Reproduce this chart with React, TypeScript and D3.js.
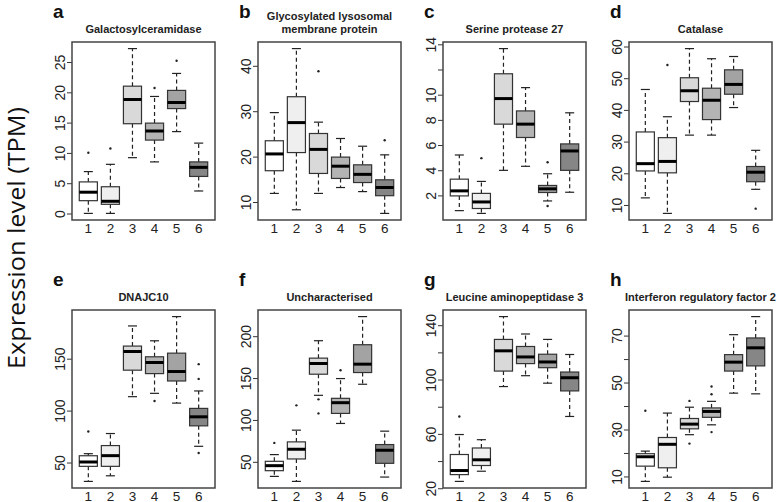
import React from "react";
import * as d3 from "d3";

const groups = [1, 2, 3, 4, 5, 6];
const fills = ["#ffffff", "#efefef", "#d9d9d9", "#b4b4b4", "#a3a3a3", "#868686"];

// per group: [lower whisker, q1, median, q3, upper whisker]
const galactosylceramidase = [
  [0.1, 2.2, 3.6, 5.3, 7.0],
  [0.1, 1.6, 2.1, 4.5, 8.2],
  [9.3, 14.9, 18.9, 21.1, 27.3],
  [8.6, 12.2, 13.7, 15.0, 19.4],
  [13.6, 17.4, 18.4, 20.4, 23.2],
  [3.8, 6.2, 7.7, 8.6, 11.7],
];
const galactosylceramidaseOut = [[10.1], [10.8], [], [20.8], [25.3], []];

const glycosylated = [
  [12.0, 17.0, 20.7, 23.6, 29.8],
  [8.4, 21.0, 27.6, 33.3, 43.9],
  [12.0, 16.4, 21.7, 25.2, 27.7],
  [13.3, 15.3, 18.0, 20.0, 24.1],
  [12.4, 14.4, 16.2, 18.3, 22.4],
  [7.6, 11.5, 13.3, 15.0, 20.5],
];
const glycosylatedOut = [[], [], [38.9], [], [], [23.7]];

const serineProtease = [
  [0.83, 2.0, 2.4, 3.33, 5.25],
  [0.61, 1.0, 1.52, 2.2, 3.15],
  [4.03, 7.7, 9.73, 11.7, 13.7],
  [4.35, 6.64, 7.7, 8.75, 10.6],
  [1.6, 2.27, 2.56, 2.83, 3.76],
  [2.29, 4.03, 5.57, 6.13, 8.6],
];
const serineProteaseOut = [[], [5.0], [], [], [4.67, 1.2], []];

const catalase = [
  [12.4, 20.9, 23.2, 33.2, 46.6],
  [7.5, 20.3, 23.9, 31.4, 38.0],
  [32.2, 42.8, 46.2, 50.3, 59.5],
  [32.2, 37.1, 43.2, 47.0, 56.3],
  [40.9, 45.1, 48.2, 52.8, 57.0],
  [15.1, 17.5, 20.5, 22.3, 27.4],
];
const catalaseOut = [[], [54.3], [], [], [], [9.0]];

const dnajc10 = [
  [32.3, 46.8, 51.0, 57.0, 59.0],
  [37.7, 46.8, 57.1, 66.8, 78.4],
  [113.9, 139.4, 157.4, 162.6, 182.0],
  [117.1, 136.1, 146.8, 152.3, 167.7],
  [107.7, 129.0, 138.1, 155.8, 191.0],
  [66.1, 85.8, 94.5, 102.6, 119.4],
];
const dnajc10Out = [[80.3], [], [], [109.7], [], [145.2, 131.0, 59.7]];

const uncharacterised = [
  [33.2, 40.0, 46.0, 51.2, 59.2],
  [27.2, 54.0, 65.6, 74.4, 88.4],
  [130.0, 155.2, 168.0, 174.4, 195.2],
  [96.4, 108.4, 121.2, 126.4, 150.0],
  [143.2, 157.2, 167.2, 190.4, 224.0],
  [32.4, 48.8, 64.4, 71.2, 87.2],
];
const uncharacterisedOut = [[73.2], [118.0], [125.2, 108.4], [160.0], [], []];

const leucineAminopeptidase = [
  [25.4, 30.4, 33.4, 45.2, 59.9],
  [32.9, 37.1, 41.3, 50.0, 56.1],
  [95.2, 106.6, 121.5, 129.9, 146.7],
  [103.2, 112.1, 117.0, 124.7, 133.9],
  [97.7, 109.1, 113.3, 119.0, 129.9],
  [73.2, 92.0, 101.7, 105.9, 118.8],
];
const leucineAminopeptidaseOut = [[73.2], [], [], [], [], []];

const interferonFactor = [
  [8.1, 14.6, 18.6, 19.9, 21.0],
  [9.9, 13.9, 23.9, 26.8, 37.2],
  [28.0, 30.5, 32.5, 34.9, 39.7],
  [32.2, 35.4, 37.9, 39.4, 42.2],
  [45.7, 55.1, 58.9, 62.1, 70.6],
  [45.4, 57.3, 65.0, 69.2, 78.3],
];
const interferonFactorOut = [[38.2], [], [42.4, 24.2], [45.2, 48.5, 29.1], [], []];

const titles = [
  ["Galactosylceramidase"],
  ["Glycosylated lysosomal", "membrane protein"],
  ["Serine protease 27"],
  ["Catalase"],
  ["DNAJC10"],
  ["Uncharacterised"],
  ["Leucine aminopeptidase 3"],
  ["Interferon regulatory factor 2"],
];
const letters = ["a", "b", "c", "d", "e", "f", "g", "h"];

const tickValues = [
  [0, 5, 10, 15, 20, 25],
  [10, 20, 30, 40],
  [2, 4, 6, 8, 10, 12, 14],
  [10, 20, 30, 40, 50, 60],
  [50, 100, 150],
  [50, 100, 150, 200],
  [20, 40, 60, 80, 100, 120, 140],
  [10, 20, 30, 40, 50, 60, 70],
];
const tickLabels = [
  [0, 5, 10, 15, 20, 25],
  [10, 20, 30, 40],
  [2, 4, 6, 8, 10, 14],
  [10, 20, 30, 40, 50, 60],
  [50, 100, 150],
  [50, 100, 150, 200],
  [20, 60, 100, 140],
  [10, 30, 50, 70],
];

const stats = [galactosylceramidase, glycosylated, serineProtease, catalase, dnajc10, uncharacterised, leucineAminopeptidase, interferonFactor];
const outliers = [galactosylceramidaseOut, glycosylatedOut, serineProteaseOut, catalaseOut, dnajc10Out, uncharacterisedOut, leucineAminopeptidaseOut, interferonFactorOut];

const colLefts = [72, 258, 443, 629];
const rowTops = [42, 310];
const plotW = 143;
const plotH = 178;
const tickFont = "'Liberation Sans', Arial, Helvetica, sans-serif";

function Panel({ i }: { i: number }) {
  const left = colLefts[i % 4];
  const top = rowTops[Math.floor(i / 4)];
  const s = stats[i];
  const out = outliers[i];
  const all = [...s.flat(), ...out.flat()];
  const [lo, hi] = d3.extent(all) as [number, number];
  const pad = (hi - lo) * 0.04;
  const y = d3.scaleLinear().domain([lo - pad, hi + pad]).range([top + plotH, top]);
  const x = d3.scaleLinear().domain([0.26, 6.74]).range([left, left + plotW]);
  const bw = (x(1) - x(0)) * 0.82;
  const cap = bw / 2;
  const t = titles[i];
  const titleY = top - 9;

  return (
    <g>
      <text x={left - 19} y={top - 24} fontFamily={tickFont} fontWeight="bold" fontSize={19} fill="#111">
        {letters[i]}
      </text>
      {t.map((line, k) => (
        <text key={k} x={left + plotW / 2} y={titleY - (t.length - 1 - k) * 13} textAnchor="middle" fontFamily={tickFont} fontWeight="bold" fontSize={11} fill="#222">
          {line}
        </text>
      ))}
      {groups.map((g, j) => {
        const [w0, q1, md, q3, w1] = s[j];
        const cx = x(g);
        return (
          <g key={g}>
            <line x1={cx} x2={cx} y1={y(q3)} y2={y(w1)} stroke="#222" strokeWidth={1.2} strokeDasharray="4,3" />
            <line x1={cx} x2={cx} y1={y(q1)} y2={y(w0)} stroke="#222" strokeWidth={1.2} strokeDasharray="4,3" />
            <line x1={cx - cap / 2} x2={cx + cap / 2} y1={y(w1)} y2={y(w1)} stroke="#222" strokeWidth={1.2} />
            <line x1={cx - cap / 2} x2={cx + cap / 2} y1={y(w0)} y2={y(w0)} stroke="#222" strokeWidth={1.2} />
            <rect x={cx - bw / 2} y={y(q3)} width={bw} height={y(q1) - y(q3)} fill={fills[j]} stroke="#333" strokeWidth={1.2} />
            <line x1={cx - bw / 2} x2={cx + bw / 2} y1={y(md)} y2={y(md)} stroke="#000" strokeWidth={3} />
            {out[j].map((v, k) => (
              <circle key={k} cx={cx} cy={y(v)} r={1.2} fill="#222" />
            ))}
            <text x={cx} y={top + plotH + 12.5} textAnchor="middle" fontFamily={tickFont} fontSize={13.5} fill="#222">
              {g}
            </text>
          </g>
        );
      })}
      {tickValues[i].map((v) => (
        <g key={v}>
          <line x1={left - 5} x2={left} y1={y(v)} y2={y(v)} stroke="#333" strokeWidth={1} />
          {tickLabels[i].includes(v) && (
            <text transform={`translate(${left - 7},${y(v)}) rotate(-90)`} textAnchor="middle" fontFamily={tickFont} fontSize={14} fill="#222">
              {v}
            </text>
          )}
        </g>
      ))}
      <rect x={left} y={top} width={plotW} height={plotH} fill="none" stroke="#444" strokeWidth={1.5} />
    </g>
  );
}

export default function App() {
  return (
    <svg width={777} height={502} style={{ position: "absolute", left: 0, top: 0, background: "#fff" }}>
      <rect width={777} height={502} fill="#fff" />
      <text transform="translate(25,238) rotate(-90)" textAnchor="middle" fontFamily="'Open Sans', 'Noto Sans', sans-serif" fontSize={23} textLength={262} lengthAdjust="spacingAndGlyphs" fill="#111">
        Expression level (TPM)
      </text>
      {d3.range(8).map((i) => (
        <Panel key={i} i={i} />
      ))}
    </svg>
  );
}
